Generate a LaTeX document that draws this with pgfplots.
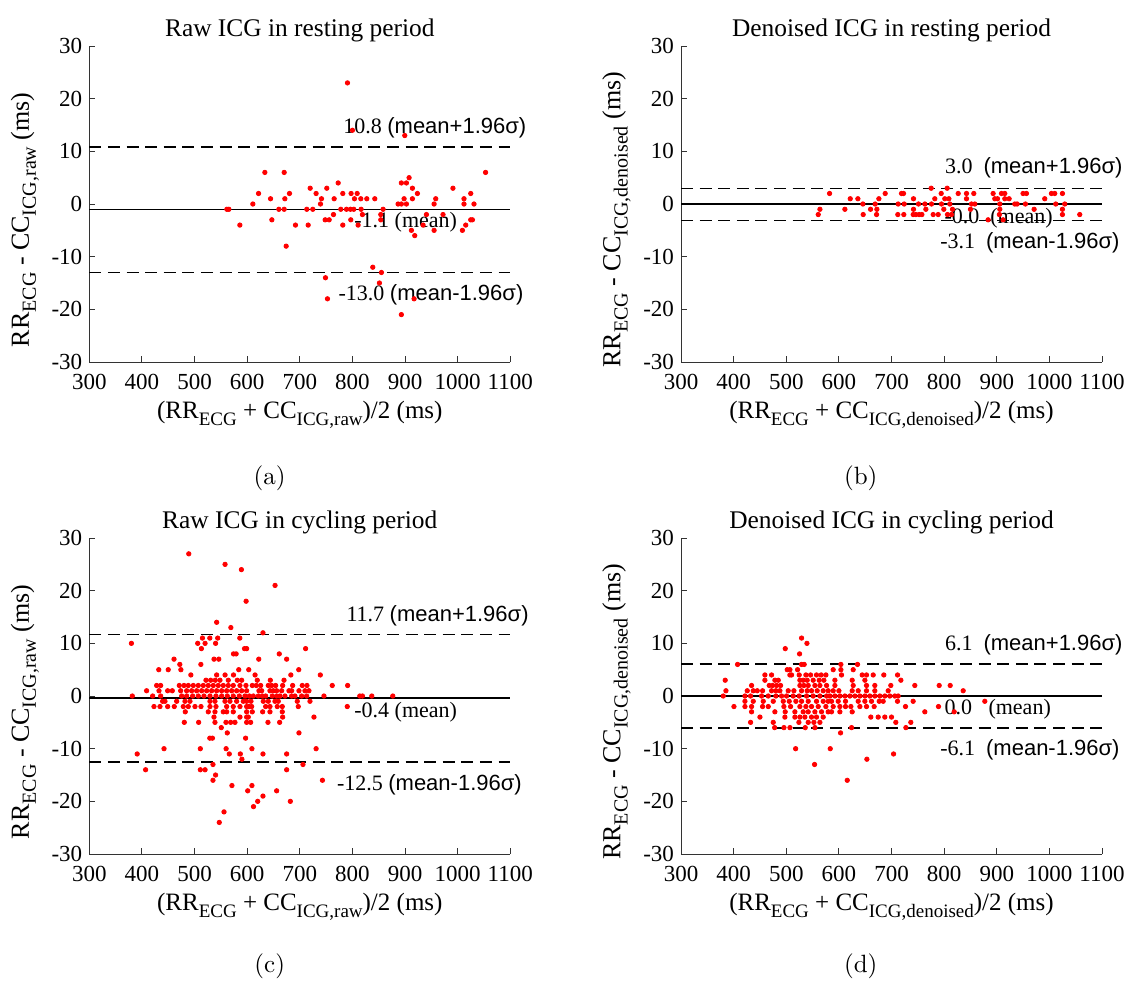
\documentclass[border=0pt]{standalone}
\usepackage{pgfplots}
\pgfplotsset{compat=1.18}
\usepackage{fontspec}
\setmainfont{Liberation Serif}
\newfontfamily\arial{Liberation Sans}
\newfontfamily\lmr{lmroman10-regular.otf}
\newcommand{\sub}[1]{\raisebox{-0.6ex}{\fontsize{9.5}{10}\selectfont #1}}
\newcommand{\subb}[1]{\raisebox{-0.6ex}{\fontsize{10}{10}\selectfont #1}}
\tikzset{ann/.style={anchor=west, inner sep=0pt, font=\fontsize{11}{12}\selectfont}}
\pgfplotsset{
 ba/.style={
  scale only axis, width=210.5pt, height=158pt,
  xmin=300, xmax=1100, ymin=-30, ymax=30,
  xtick={300,400,...,1100}, ytick={-30,-20,...,30},
  axis x line=bottom, axis y line=left,
  axis line style={-, black!80, line width=0.5pt},
  tick style={black!80, line width=0.5pt},
  major tick length=3pt, tick align=inside,
  /pgf/number format/assume math mode=true,
  /pgf/number format/1000 sep={},
  ticklabel style={font=\fontsize{11.5}{12}\selectfont},
  xticklabel style={yshift=-2.5pt},
  label style={font=\fontsize{12.5}{13}\selectfont},
  title style={font=\fontsize{12.7}{13}\selectfont, at={(0.5,1)}, anchor=base, yshift=-1pt},
  xlabel style={at={(axis description cs:0.5,-0.178)}, anchor=base},
  ylabel style={at={(axis description cs:-0.153,0.45)}, anchor=center, font=\fontsize{13}{13}\selectfont},
  clip=false,
 },
 pts/.style={only marks, mark=*, mark size=1.1pt, color=red, mark options={draw=red, fill=red}},
 meanl/.style={black, line width=0.65pt},
 limitl/.style={black, line width=0.65pt, dash pattern=on 6pt off 3.3pt},
}
\begin{document}
\begin{tikzpicture}
\path[use as bounding box] (0,0) rectangle (567.5pt,-490.5pt);
% ---------------- (a)
\begin{axis}[ba, at={(44.65pt,-181pt)}, anchor=south west,
 title={Raw ICG in resting period},
 xlabel={(RR\sub{ECG} + CC\sub{ICG,raw})/2 (ms)},
 ylabel={RR\subb{ECG} - CC\subb{ICG,raw} (ms)}]
\addplot[meanl] coordinates {(300,-1.1) (1100,-1.1)};
\addplot[limitl] coordinates {(300,10.8) (1100,10.8)};
\addplot[limitl] coordinates {(300,-13.0) (1100,-13.0)};
\addplot[pts] coordinates {
(790.6,23) (800,14) (899.5,13) (633.6,6) (670.3,6) (1053,6) (907.7,5) (893,4) (902.6,4) (772.9,4)
(719.7,3) (751.3,3) (914,3) (991,3)
(621.6,2) (680.4,2) (731,2) (781.7,2) (797.5,2) (809,2) (923.5,2) (1024.8,2)
(644.4,1) (671.6,1) (741.2,1) (765.3,1) (803.9,1) (815.9,1) (827.3,1) (842.5,1) (898.2,1) (914,1) (958.3,1) (1012,1)
(610.8,0) (739.3,0) (886.8,0) (893,0) (902.6,0) (955.2,0) (1012,0) (1031,0)
(561.4,-1) (565.2,-1) (660.2,-1) (670.3,-1) (713.3,-1) (724.7,-1) (777.9,-1) (788.7,-1) (796.3,-1) (802.6,-1) (816.5,-1) (858.3,-1)
(764,-2) (819,-2) (853.9,-2) (940.6,-2) (972.2,-2)
(646.9,-3) (748.2,-3) (755.8,-3) (796.9,-3) (853.9,-3) (1028,-3) (1024.8,-3)
(586.1,-4) (691.8,-4) (715.9,-4) (781.7,-4) (810.8,-4) (934.3,-4) (1015.3,-4)
(912.1,-5) (955.2,-5) (1009,-5) (918.4,-6) (674.1,-8) (838.7,-12) (855.1,-13) (748.8,-14) (851.3,-15)
(752.6,-18) (917.2,-18) (893,-21)
};
\node[ann] at (axis cs:782,14.4) {10.8 {\arial (mean+1.96σ)}};
\node[ann] at (axis cs:803,-3.4) {-1.1 (mean)};
\node[ann] at (axis cs:773,-17.3) {-13.0 {\arial (mean-1.96σ)}};
\end{axis}
% ---------------- (b)
\begin{axis}[ba, at={(340.5pt,-181pt)}, anchor=south west,
 title={Denoised ICG in resting period},
 xlabel={(RR\sub{ECG} + CC\sub{ICG,denoised})/2 (ms)},
 ylabel={RR\subb{ECG} - CC\subb{ICG,denoised} (ms)}]
\addplot[meanl] coordinates {(300,0) (1100,0)};
\addplot[limitl] coordinates {(300,3.0) (1100,3.0)};
\addplot[limitl] coordinates {(300,-3.1) (1100,-3.1)};
\addplot[pts] coordinates {
(775.4,3) (805.8,3)
(582.3,2) (688,2) (719,2) (722.8,2) (794.4,2) (826.7,2) (842.5,2) (856.4,2) (893.1,2) (909,2) (915.3,2) (950,2) (956.4,2) (1003.9,2) (1010.2,2) (1024.8,2)
(621.6,1) (636.1,1) (676,1) (741.8,1) (782.3,1) (801.3,1) (809,1) (842.5,1) (896.3,1) (901.4,1) (915.3,1) (923.5,1) (991.2,1)
(645.6,0) (669,0) (712.7,0) (724.1,0) (751.3,0) (763.4,0) (776,0) (795,0) (810.8,0) (852,0) (858.3,0) (905.8,0) (934.3,0) (938.7,0) (954.5,0) (1012.1,0) (1029.2,0)
(564,-1) (611.4,-1) (660.2,-1) (672.2,-1) (741.8,-1) (765.3,-1) (799.4,-1) (815.9,-1) (850,-1) (905.8,-1) (971,-1) (1024.8,-1)
(560.8,-2) (646.2,-2) (671.6,-2) (712,-2) (723.4,-2) (741.2,-2) (746.3,-2) (752.6,-2) (757.7,-2) (779.2,-2) (788.7,-2) (806.4,-2) (814,-2) (905,-2) (1024.8,-2) (1057.7,-2)
(883.6,-3) (912.1,-3)
};
\node[ann] at (axis cs:801,6.8) {3.0\ \ {\arial (mean+1.96σ)}};
\node[ann] at (axis cs:800,-2.7) {-0.0\ \ (mean)};
\node[ann] at (axis cs:792,-7.3) {-3.1\ \ {\arial (mean-1.96σ)}};
\end{axis}
% ---------------- (c)
\begin{axis}[ba, at={(44.65pt,-427pt)}, anchor=south west,
 title={Raw ICG in cycling period},
 xlabel={(RR\sub{ECG} + CC\sub{ICG,raw})/2 (ms)},
 ylabel={RR\subb{ECG} - CC\subb{ICG,raw} (ms)}]
\addplot[meanl] coordinates {(300,-0.4) (1100,-0.4)};
\addplot[limitl] coordinates {(300,11.7) (1100,11.7)};
\addplot[limitl] coordinates {(300,-12.5) (1100,-12.5)};
\addplot[pts] coordinates {
(489,27) (558,25) (589,24) (653,21) (598,18) (542,14) (569,13) (630,12)
(515,11) (529,11) (544,11) (586,11)
(380,10) (506,10) (520,10) (540,10)
(513,9) (595,9) (599,9) (711,9)
(574,8) (579,8) (661,8)
(461,7) (537,7) (546,7) (622,7) (675,7)
(472,6) (512,6)
(432,5) (450,5) (474,5) (584,5) (603,5) (698,5)
(493,4) (542,4) (558,4) (574,4) (615,4) (683,4) (739,4)
(521.7,3) (530.6,3) (539.4,3) (548.3,3) (564.1,3) (581.2,3) (589.5,3) (619.2,3) (644,3) (670,3)
(428,2) (435.6,2) (471,2) (479.9,2) (488.1,2) (497.6,2) (507.1,2) (516.6,2) (526.1,2) (535.6,2) (545.1,2) (554.6,2) (564.1,2) (573.6,2) (586.3,2) (597.7,2) (609.7,2) (617.3,2) (625.6,2) (640.1,2) (646.5,2) (654.1,2) (667.4,2) (686.4,2) (704.7,2) (713.6,2) (761.7,2) (790.9,2)
(408.9,1) (432.4,1) (448.9,1) (457.7,1) (473.6,1) (485,1) (494.5,1) (504,1) (513.5,1) (523,1) (532.5,1) (542,1) (551.5,1) (561,1) (570.5,1) (580,1) (589.5,1) (599,1) (622.4,1) (627.5,1) (643.3,1) (649.6,1) (656,1) (665.5,1) (679.4,1) (684.5,1) (698.4,1) (709.8,1) (717.4,1)
(381.7,0) (420.4,0) (435.6,0) (475.5,0) (485,0) (496.4,0) (507.1,0) (517.9,0) (529.3,0) (540.7,0) (551.5,0) (562.2,0) (573.6,0) (585,0) (595.8,0) (604,0) (611.6,0) (621.1,0) (628.7,0) (635.1,0) (647.7,0) (656,0) (662.3,0) (671.8,0) (684.5,0) (690.8,0) (703.5,0) (713,0) (745.9,0) (814,0) (819,0) (836.8,0) (876.7,0)
(439.3,-1) (443.8,-1) (466,-1) (481.8,-1) (491.3,-1) (529.3,-1) (538.8,-1) (557.8,-1) (567.3,-1) (580,-1) (592.6,-1) (599,-1) (607.2,-1) (630.6,-1) (640.1,-1) (652.8,-1) (659.1,-1) (695.2,-1) (719.3,-1)
(422.9,-2) (434.3,-2) (448.9,-2) (461.5,-2) (478.6,-2) (488.1,-2) (500.8,-2) (512.2,-2) (529.3,-2) (540.7,-2) (561,-2) (573.6,-2) (586.3,-2) (599,-2) (603.4,-2) (608.5,-2) (635.1,-2) (643.3,-2) (657.2,-2) (666.7,-2) (697.1,-2) (790.2,-2)
(482.4,-3) (526.1,-3) (538.8,-3) (554.6,-3) (561,-3) (573.6,-3) (599,-3) (609.7,-3) (629.4,-3) (643.3,-3) (666.7,-3)
(536.9,-4) (586.3,-4) (599,-4) (602.1,-4) (667.4,-4) (726.9,-4)
(480.5,-5) (507.8,-5) (538.8,-5) (559.7,-5) (568.6,-5) (576.8,-5) (599,-5) (606.6,-5) (639.5,-5) (661.7,-5)
(550.8,-6) (562.2,-7) (698.4,-7) (529,-8) (534,-8) (597,-8)
(442,-10) (511,-10) (560,-10) (609,-10) (731,-10)
(391,-11) (566,-11) (587,-11) (630,-11) (675,-11)
(590,-12) (535,-13) (706,-13)
(407,-14) (511,-14) (520,-14) (675,-14)
(540,-15) (535,-16) (743,-16) (571,-17) (609,-17) (601,-18) (656,-18)
(630,-19) (620,-20) (682,-20) (612,-21) (556,-22) (547,-24)
};
\node[ann] at (axis cs:788,15.2) {11.7 {\arial (mean+1.96σ)}};
\node[ann] at (axis cs:803,-3.0) {-0.4 (mean)};
\node[ann] at (axis cs:770,-16.9) {-12.5 {\arial (mean-1.96σ)}};
\end{axis}
% ---------------- (d)
\begin{axis}[ba, at={(340.5pt,-427pt)}, anchor=south west,
 title={Denoised ICG in cycling period},
 xlabel={(RR\sub{ECG} + CC\sub{ICG,denoised})/2 (ms)},
 ylabel={RR\subb{ECG} - CC\subb{ICG,denoised} (ms)}]
\addplot[meanl] coordinates {(300,0) (1100,0)};
\addplot[limitl] coordinates {(300,6.1) (1100,6.1)};
\addplot[limitl] coordinates {(300,-6.1) (1100,-6.1)};
\addplot[pts] coordinates {
(529.1,11) (539.3,10) (498.1,9) (525.3,8)
(407.5,6) (529.1,6) (534.1,6) (603.8,6) (635.4,6)
(501.8,5) (507,5) (521.5,5) (589.2,5) (603.8,5) (627.2,5)
(459.4,4) (472.1,4) (506.9,4) (510.1,4) (524.6,4) (537.3,4) (546.2,4) (557.5,4) (566.4,4) (575.3,4) (605,4) (644.3,4) (652.5,4) (665.2,4) (685.4,4) (711.5,4)
(384,3) (459.4,3) (478.4,3) (484.8,3) (525.9,3) (532.2,3) (539.8,3) (551.2,3) (562.6,3) (571.5,3) (592.4,3) (625.3,3) (649.4,3) (717.8,3)
(434.1,2) (467.7,2) (474,2) (481.6,2) (489.2,2) (525.9,2) (533.5,2) (541.7,2) (554.4,2) (563.9,2) (576.6,2) (592.4,2) (627.2,2) (652.5,2) (668.3,2) (698.7,2) (744.3,2) (790.6,2) (811.5,2)
(385.4,1) (425.9,1) (437.3,1) (444.9,1) (455,1) (472.1,1) (480.3,1) (487.9,1) (503.7,1) (514.5,1) (529.1,1) (539.8,1) (548,1) (558.8,1) (570.2,1) (579.7,1) (589.2,1) (600,1) (625.3,1) (636.7,1) (652.5,1) (668.3,1) (693.7,1) (836.2,1)
(380.3,0) (421.5,0) (432.2,0) (453.1,0) (465.8,0) (480.3,0) (491.1,0) (500.6,0) (513.2,0) (524.6,0) (538.6,0) (551.2,0) (563.9,0) (576.6,0) (582.9,0) (592.4,0) (601.9,0) (611.4,0) (620.9,0) (630.4,0) (639.9,0) (649.4,0) (658.8,0) (668.3,0) (677.8,0) (687.3,0) (696.8,0) (706.3,0) (712.6,0)
(421.5,-1) (437.3,-1) (456.3,-1) (475.3,-1) (494.3,-1) (505.6,-1) (518.3,-1) (529.1,-1) (541.7,-1) (557.5,-1) (570.2,-1) (579.7,-1) (586,-1) (598.7,-1) (612.6,-1) (636.7,-1) (649.4,-1) (662,-1) (676.6,-1) (684.2,-1) (711.4,-1) (741.1,-1) (877.3,-1)
(400.6,-2) (421.5,-2) (434.1,-2) (455,-2) (465.8,-2) (495.5,-2) (508.2,-2) (525.9,-2) (537.3,-2) (548,-2) (560.7,-2) (575.3,-2) (589.2,-2) (601.9,-2) (612.6,-2) (622.8,-2) (639.9,-2) (652.5,-2) (667,-2) (726.6,-2) (789.3,-2)
(434.1,-3) (478.4,-3) (498,-3) (516.4,-3) (532.2,-3) (541.7,-3) (554.4,-3) (567,-3) (579.7,-3) (586,-3) (601.9,-3) (625.3,-3) (763.3,-3) (819.1,-3)
(450,-4) (497.4,-4) (516.4,-4) (525.9,-4) (535.4,-4) (548,-4) (557.5,-4) (570.2,-4) (660.7,-4) (674.7,-4) (687.3,-4) (700,-4)
(432.2,-5) (475.3,-5) (524,-5) (541.7,-5) (552.5,-5) (563.9,-5) (708.2,-5) (736.7,-5)
(477.9,-6) (495.6,-6) (507,-6) (536.1,-6) (554.5,-6) (624.1,-6) (727.3,-6)
(603.2,-7) (517.8,-10) (583.6,-10) (703.9,-11) (653.2,-12) (553.8,-13) (615.9,-16)
};
\node[ann] at (axis cs:801,9.7) {6.1\ \ {\arial (mean+1.96σ)}};
\node[ann] at (axis cs:800,-2.5) {0.0\ \ \ (mean)};
\node[ann] at (axis cs:792,-10.3) {-6.1\ \ {\arial (mean-1.96σ)}};
\end{axis}
\node[font=\lmr\fontsize{12.5}{14}\selectfont] at (134.85pt,-239pt) {(a)};
\node[font=\lmr\fontsize{12.5}{14}\selectfont] at (430.35pt,-239pt) {(b)};
\node[font=\lmr\fontsize{12.5}{14}\selectfont] at (134.85pt,-483pt) {(c)};
\node[font=\lmr\fontsize{12.5}{14}\selectfont] at (430.35pt,-483pt) {(d)};
\end{tikzpicture}
\end{document}
